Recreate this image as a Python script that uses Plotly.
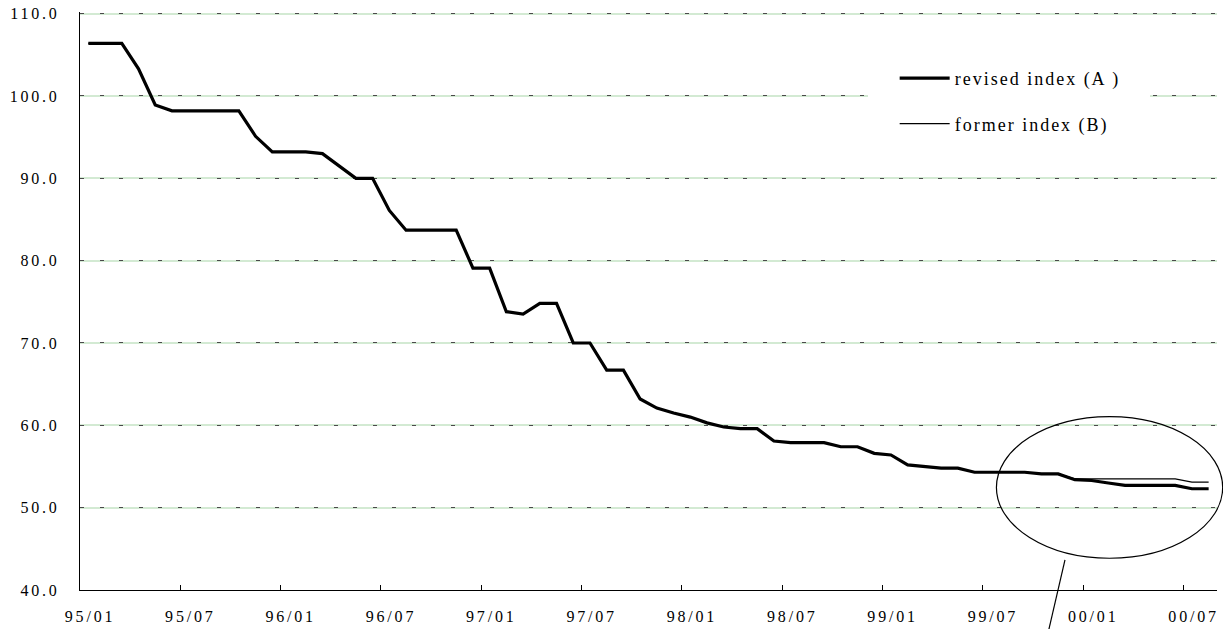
import plotly.graph_objects as go

# Monthly categories 95/01 .. 00/08
years = ["95", "96", "97", "98", "99", "00"]
months = ["01", "02", "03", "04", "05", "06", "07", "08", "09", "10", "11", "12"]
categories = [f"{y}/{m}" for y in years for m in months][:68]

tick_labels = ["95/01", "95/07", "96/01", "96/07", "97/01", "97/07", "98/01",
               "98/07", "99/01", "99/07", "00/01", "00/07"]

revised_index = [
    106.4, 106.4, 106.4, 103.3, 98.9, 98.2, 98.2, 98.2, 98.2, 98.2,
    95.1, 93.2, 93.2, 93.2, 93.0, 91.5, 90.0, 90.0, 86.1, 83.7,
    83.7, 83.7, 83.7, 79.1, 79.1, 73.8, 73.5, 74.8, 74.8, 70.0,
    70.0, 66.7, 66.7, 63.2, 62.1, 61.5, 61.0, 60.3, 59.8, 59.6,
    59.6, 58.1, 57.9, 57.9, 57.9, 57.4, 57.4, 56.6, 56.4, 55.2,
    55.0, 54.8, 54.8, 54.3, 54.3, 54.3, 54.3, 54.1, 54.1, 53.4,
    53.3, 53.0, 52.7, 52.7, 52.7, 52.7, 52.3, 52.3,
]

former_index = [
    106.4, 106.4, 106.4, 103.3, 98.9, 98.2, 98.2, 98.2, 98.2, 98.2,
    95.1, 93.2, 93.2, 93.2, 93.0, 91.5, 90.0, 90.0, 86.1, 83.7,
    83.7, 83.7, 83.7, 79.1, 79.1, 73.8, 73.5, 74.8, 74.8, 70.0,
    70.0, 66.7, 66.7, 63.2, 62.1, 61.5, 61.0, 60.3, 59.8, 59.6,
    59.6, 58.1, 57.9, 57.9, 57.9, 57.4, 57.4, 56.6, 56.4, 55.2,
    55.0, 54.8, 54.8, 54.3, 54.3, 54.3, 54.3, 54.1, 54.1, 53.5,
    53.5, 53.5, 53.5, 53.5, 53.5, 53.5, 53.1, 53.1,
]

y_range = [40, 110.2]
y_dtick = 10

FONT = "Liberation Serif"

# category positions (Excel-style: points at category centres, ticks between)
x_pos = list(range(len(categories)))
tick_pos = [categories.index(t) - 0.5 for t in tick_labels]

W, H = 1223, 629
M_L, M_R, M_T, M_B = 80, 6, 12.4, 39
PLOT_W = W - M_L - M_R
label_shift = int(round(PLOT_W / len(categories) / 2 + 1.5))

fig = go.Figure()
fig.add_trace(go.Scatter(
    x=x_pos, y=revised_index, mode="lines", name="revised index (A )",
    hovertext=categories, hoverinfo="text+y",
    line=dict(color="black", width=3.2), legendgroup="a",
))
fig.add_trace(go.Scatter(
    x=x_pos, y=former_index, mode="lines", name="former index (B)",
    hovertext=categories, hoverinfo="text+y",
    line=dict(color="black", width=1.3), legendgroup="b", yaxis="y2",
))

fig.update_layout(
    width=W, height=H,
    margin=dict(l=M_L, r=M_R, t=M_T, b=M_B, autoexpand=False),
    paper_bgcolor="white", plot_bgcolor="white",
    font=dict(family=FONT, size=16, color="black"),
    showlegend=True,
    legend=dict(
        x=0.7165, y=0.917, xanchor="left", yanchor="top",
        bgcolor="white", borderwidth=0,
        font=dict(family=FONT, size=18, color="black"),
        traceorder="grouped", tracegroupgap=19, itemwidth=50,
    ),
    xaxis=dict(
        range=[-0.5, len(categories) - 0.5],
        tickmode="array", tickvals=tick_pos, ticktext=tick_labels,
        ticklabelshift=label_shift, tickangle=0,
        ticks="inside", ticklen=5, tickcolor="black",
        showline=True, linecolor="black", linewidth=1.3,
        showgrid=False, zeroline=False,
        tickfont=dict(family=FONT, size=16),
        ticklabelstandoff=12, ticklabeloverflow="allow",
    ),
    yaxis=dict(
        range=y_range, dtick=y_dtick, tick0=40, tickformat=".1f",
        showline=True, linecolor="black", linewidth=1.3,
        showgrid=True, gridcolor="#d3ead3", gridwidth=1.6,
        zeroline=False, ticks="",
        tickfont=dict(family=FONT, size=16),
        ticklabelstandoff=16, ticklabeloverflow="allow",
    ),
    yaxis2=dict(
        overlaying="y", range=y_range, dtick=y_dtick, tick0=40,
        showgrid=True, gridcolor="#4a4a4a", gridwidth=1,
        griddash="4px,15.5px",
        showticklabels=False, showline=False, zeroline=False, ticks="",
    ),
)

# annotation ellipse and pointer line
fig.add_shape(type="circle", xref="paper", yref="paper",
              x0=0.806, x1=1.005, y0=0.0549, y1=0.300,
              line=dict(color="black", width=1.2))
fig.add_shape(type="line", xref="paper", yref="paper",
              x0=0.8663, y0=0.052, x1=0.8522, y1=-0.0675,
              line=dict(color="black", width=1.2))

post = """
document.body.style.margin = '0';
var gd = document.getElementById('{plot_id}');
gd.querySelectorAll('.xtick text, .ytick text').forEach(function(t){ t.style.letterSpacing = '2.8px'; });
gd.querySelectorAll('.legendtext').forEach(function(t){ t.style.letterSpacing = '2px'; });
var sb = gd.querySelector('.legend .scrollbox');
if (sb) { sb.removeAttribute('clip-path'); }
var bg = gd.querySelector('.legend rect.bg');
if (bg) { bg.setAttribute('x', '-27'); bg.setAttribute('width', '282'); }
"""

fig.write_html("out.html", post_script=post, config={"displayModeBar": False})
